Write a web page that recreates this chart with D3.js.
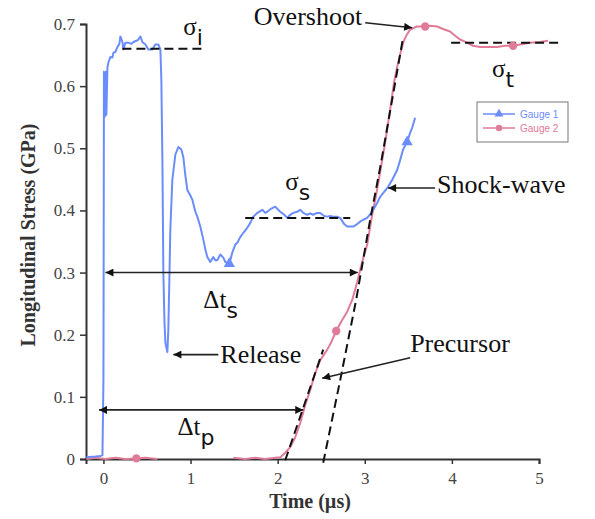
<!DOCTYPE html>
<html>
<head>
<meta charset="utf-8">
<script src="https://cdn.jsdelivr.net/npm/d3@7"></script>
<style>
  html, body { margin: 0; padding: 0; background: #fff; }
  svg { display: block; }
</style>
</head>
<body>
<svg id="chart" width="595" height="519"></svg>
<script>
// ---------------- DATA ----------------
const xTicks = [0, 1, 2, 3, 4, 5];
const yTicks = [0, 0.1, 0.2, 0.3, 0.4, 0.5, 0.6, 0.7];
const yTickLabels = ["0", "0.1", "0.2", "0.3", "0.4", "0.5", "0.6", "0.7"];
const seriesNames = ["Gauge 1", "Gauge 2"];

// Gauge 1 (blue) : time (µs), stress (GPa)
const gauge1T = [-0.195,-0.092,-0.034,-0.011,0.0,0.002,0.006,0.011,0.017,0.023,0.029,0.034,0.046,0.057,0.080,0.103,0.115,0.138,0.161,0.183,0.195,0.218,0.229,0.252,0.287,0.321,0.344,0.378,0.401,0.424,0.447,0.482,0.516,0.562,0.596,0.631,0.654,0.665,0.677,0.688,0.700,0.711,0.734,0.745,0.757,0.768,0.791,0.826,0.860,0.894,0.917,0.940,0.963,0.998,1.021,1.055,1.078,1.112,1.147,1.170,1.193,1.227,1.261,1.284,1.307,1.342,1.376,1.399,1.422,1.445,1.479,1.514,1.537,1.571,1.606,1.651,1.686,1.720,1.766,1.823,1.858,1.881,1.927,1.972,2.007,2.030,2.076,2.110,2.144,2.179,2.225,2.259,2.294,2.339,2.374,2.408,2.454,2.489,2.534,2.569,2.603,2.638,2.683,2.718,2.764,2.798,2.833,2.867,2.913,2.947,2.982,3.028,3.085,3.142,3.177,3.222,3.268,3.314,3.372,3.406,3.440,3.463,3.486,3.521,3.544,3.578];
const gauge1V = [0.003,0.004,0.005,0.006,0.127,0.256,0.623,0.578,0.551,0.610,0.623,0.554,0.630,0.638,0.647,0.646,0.654,0.655,0.663,0.668,0.680,0.671,0.659,0.670,0.670,0.668,0.671,0.673,0.675,0.680,0.671,0.667,0.659,0.659,0.667,0.667,0.659,0.610,0.481,0.301,0.224,0.187,0.172,0.208,0.288,0.369,0.449,0.490,0.502,0.498,0.486,0.457,0.433,0.424,0.417,0.398,0.390,0.374,0.353,0.337,0.325,0.317,0.325,0.320,0.320,0.329,0.324,0.317,0.316,0.314,0.332,0.345,0.348,0.357,0.364,0.372,0.380,0.390,0.396,0.401,0.396,0.398,0.403,0.406,0.401,0.398,0.393,0.388,0.393,0.396,0.398,0.401,0.396,0.393,0.395,0.393,0.396,0.396,0.391,0.390,0.391,0.390,0.390,0.388,0.378,0.374,0.374,0.374,0.378,0.382,0.385,0.388,0.398,0.412,0.422,0.430,0.438,0.449,0.465,0.481,0.498,0.504,0.510,0.525,0.533,0.549];
const gauge1MarkT = [1.445, 3.486];
const gauge1MarkV = [0.314, 0.510];

// Gauge 2 (pink) : null marks a gap in the record
const gauge2T = [-0.195,-0.092,0.023,0.138,0.252,0.378,0.482,0.619,null,1.491,1.628,1.743,1.858,1.972,2.030,2.087,2.144,2.202,2.259,2.317,2.374,2.431,2.489,2.569,2.615,2.672,2.729,2.798,2.856,2.913,2.970,3.028,3.085,3.131,3.177,3.234,3.291,3.337,3.372,3.406,3.440,3.475,3.521,3.567,3.601,3.647,3.693,3.750,3.830,3.899,3.979,4.037,4.094,4.174,4.243,4.323,4.415,4.518,4.610,4.702,4.782,4.897,5.011,5.103];
const gauge2V = [0.000,0.002,0.000,0.002,0.000,0.001,0.002,0.000,null,0.002,0.000,0.002,0.000,0.002,0.003,0.010,0.019,0.035,0.058,0.087,0.111,0.138,0.159,0.176,0.188,0.206,0.221,0.237,0.256,0.285,0.317,0.345,0.393,0.425,0.462,0.509,0.562,0.607,0.631,0.651,0.670,0.681,0.691,0.694,0.696,0.696,0.696,0.697,0.696,0.692,0.688,0.681,0.675,0.670,0.665,0.663,0.663,0.663,0.665,0.665,0.667,0.670,0.671,0.673];
const gauge2MarkT = [0.378, 2.672, 3.693, 4.702];
const gauge2MarkV = [0.001, 0.206, 0.696, 0.665];

// Dashed reference lines
const sigmaIT = [0.218, 1.147], sigmaIV = [0.660, 0.660];
const sigmaST = [1.628, 2.833], sigmaSV = [0.388, 0.388];
const sigmaTT = [3.991, 5.264], sigmaTV = [0.670, 0.670];
const precursorFitT = [2.087, 2.523], precursorFitV = [-0.002, 0.176];
const shockFitT = [2.523, 2.718, 2.901, 3.062, 3.177, 3.314, 3.440];
const shockFitV = [-0.006, 0.127, 0.256, 0.385, 0.469, 0.578, 0.678];

// Annotation arrows: [t1, v1, t2, v2, double-headed]
const arrowNames = ["dts", "dtp", "release", "precursor", "shock", "overshoot"];
const arrowT1 = [0.023, -0.050, 1.319, 3.521, 3.807, 3.005];
const arrowV1 = [0.300, 0.079, 0.168, 0.163, 0.436, 0.702];
const arrowT2 = [2.920, 2.294, 0.803, 2.511, 3.268, 3.544];
const arrowV2 = [0.300, 0.079, 0.168, 0.130, 0.436, 0.694];
const arrowDouble = [true, true, false, false, false, false];

// Text labels
const labelText = ["Overshoot", "Release", "Precursor", "Shock-wave"];
const labelT = [2.970, 1.342, 3.521, 3.830];
const labelV = [0.699, 0.155, 0.172, 0.428];
const labelAnchor = ["end", "start", "start", "start"];

const symText = ["Δt", "Δt", "σ", "σ", "σ"];
const symSub = ["s", "p", "i", "s", "t"];
const symT = [1.147, 0.849, 0.917, 2.087, 4.461];
const symV = [0.243, 0.039, 0.683, 0.433, 0.614];

// ---------------- CHART ----------------
const svg = d3.select("#chart");
const blue = "#6b8dfb", pink = "#e07b98";
const x = d3.scaleLinear().domain([-0.2, 5]).range([86, 539]);
const y = d3.scaleLinear().domain([0, 0.7]).range([459, 24]);

const defs = svg.append("defs");
defs.append("marker").attr("id", "ah")
  .attr("viewBox", "0 0 10 10").attr("refX", 10).attr("refY", 5)
  .attr("markerUnits", "userSpaceOnUse").attr("markerWidth", 10).attr("markerHeight", 8)
  .attr("orient", "auto-start-reverse")
  .append("path").attr("d", "M0,0 L10,5 L0,10 Z").attr("fill", "#111");

// axes
const yAxis = d3.axisLeft(y).tickValues(yTicks)
  .tickFormat((d, i) => yTickLabels[i]).tickSizeOuter(0).tickSize(6).tickPadding(5);
const gy = svg.append("g").attr("transform", `translate(${x(-0.2)},0)`).call(yAxis);
const xAxis = d3.axisBottom(x).tickValues(xTicks).tickFormat(d3.format("d"))
  .tickSizeOuter(0).tickSize(5).tickPadding(8);
const gx = svg.append("g").attr("transform", `translate(0,${y(0)})`).call(xAxis);
[gx, gy].forEach(g => {
  g.select(".domain").attr("stroke", "#333").attr("stroke-width", 2);
  g.selectAll(".tick line").attr("stroke", "#333").attr("stroke-width", 1.5);
  g.selectAll(".tick text").attr("font-family", "Liberation Serif, serif")
    .attr("font-size", 17).attr("fill", "#444");
});

svg.append("text").attr("x", 310).attr("y", 508).attr("text-anchor", "middle")
  .attr("font-family", "Liberation Serif, serif").attr("font-weight", "bold")
  .attr("font-size", 20).attr("fill", "#333").text("Time (µs)");
svg.append("text").attr("transform", "translate(35,235) rotate(-90)")
  .attr("text-anchor", "middle")
  .attr("font-family", "Liberation Serif, serif").attr("font-weight", "bold")
  .attr("font-size", 20).attr("fill", "#333").text("Longitudinal Stress (GPa)");

// series
const line = d3.line().defined(d => d[0] !== null).x(d => x(d[0])).y(d => y(d[1]));
const g2 = gauge2T.map((t, i) => [t, gauge2V[i]]);
const g1 = gauge1T.map((t, i) => [t, gauge1V[i]]);
svg.append("path").datum(g2).attr("d", line).attr("fill", "none")
  .attr("stroke", pink).attr("stroke-width", 2).attr("stroke-linejoin", "round");
svg.append("path").datum(g1).attr("d", line).attr("fill", "none")
  .attr("stroke", blue).attr("stroke-width", 2).attr("stroke-linejoin", "round");

// dashed fits
const dashed = [[sigmaIT, sigmaIV], [sigmaST, sigmaSV], [sigmaTT, sigmaTV],
                [precursorFitT, precursorFitV], [shockFitT, shockFitV]];
dashed.forEach(([ts, vs]) => {
  svg.append("path").datum(ts.map((t, i) => [t, vs[i]])).attr("d", line)
    .attr("fill", "none").attr("stroke", "#111").attr("stroke-width", 2)
    .attr("stroke-dasharray", "9,5");
});

// markers
const tri = d3.symbol().type(d3.symbolTriangle).size(55);
svg.selectAll(".m1").data(gauge1MarkT).enter().append("path")
  .attr("transform", (t, i) => `translate(${x(t)},${y(gauge1MarkV[i])})`)
  .attr("d", tri).attr("fill", blue);
svg.selectAll(".m2").data(gauge2MarkT).enter().append("circle")
  .attr("cx", t => x(t)).attr("cy", (t, i) => y(gauge2MarkV[i])).attr("r", 4.2)
  .attr("fill", pink);

// arrows
arrowNames.forEach((n, i) => {
  const l = svg.append("line")
    .attr("x1", x(arrowT1[i])).attr("y1", y(arrowV1[i]))
    .attr("x2", x(arrowT2[i])).attr("y2", y(arrowV2[i]))
    .attr("stroke", "#222").attr("stroke-width", 1.6)
    .attr("marker-end", "url(#ah)");
  if (arrowDouble[i]) l.attr("marker-start", "url(#ah)");
});

// labels
labelText.forEach((s, i) => {
  svg.append("text").attr("x", x(labelT[i])).attr("y", y(labelV[i]))
    .attr("text-anchor", labelAnchor[i])
    .attr("font-family", "Liberation Serif, serif").attr("font-size", 26)
    .attr("fill", "#111").text(s);
});
symText.forEach((s, i) => {
  const t = svg.append("text").attr("x", x(symT[i])).attr("y", y(symV[i]))
    .attr("font-family", "Liberation Serif, serif").attr("font-size", 25).attr("fill", "#111");
  t.append("tspan").text(s);
  t.append("tspan").attr("dy", 10).attr("font-size", 22)
    .attr("font-family", "DejaVu Sans, sans-serif").text(symSub[i]);
});

// legend
const lg = svg.append("g").attr("transform", "translate(477,102)");
lg.append("rect").attr("width", 91).attr("height", 40).attr("fill", "#fff")
  .attr("stroke", "#777").attr("stroke-width", 1);
seriesNames.forEach((n, i) => {
  const c = i === 0 ? blue : pink;
  const yy = 12 + i * 14;
  lg.append("line").attr("x1", 6).attr("x2", 38).attr("y1", yy).attr("y2", yy)
    .attr("stroke", c).attr("stroke-width", 1.5);
  if (i === 0) lg.append("path").attr("transform", `translate(22,${yy})`)
    .attr("d", d3.symbol().type(d3.symbolTriangle).size(35)).attr("fill", c);
  else lg.append("circle").attr("cx", 22).attr("cy", yy).attr("r", 3.2).attr("fill", c);
  lg.append("text").attr("x", 43).attr("y", yy + 3.5)
    .attr("font-family", "Liberation Sans, Arial, sans-serif").attr("font-size", 10)
    .attr("fill", c).text(n);
});
</script>
</body>
</html>
